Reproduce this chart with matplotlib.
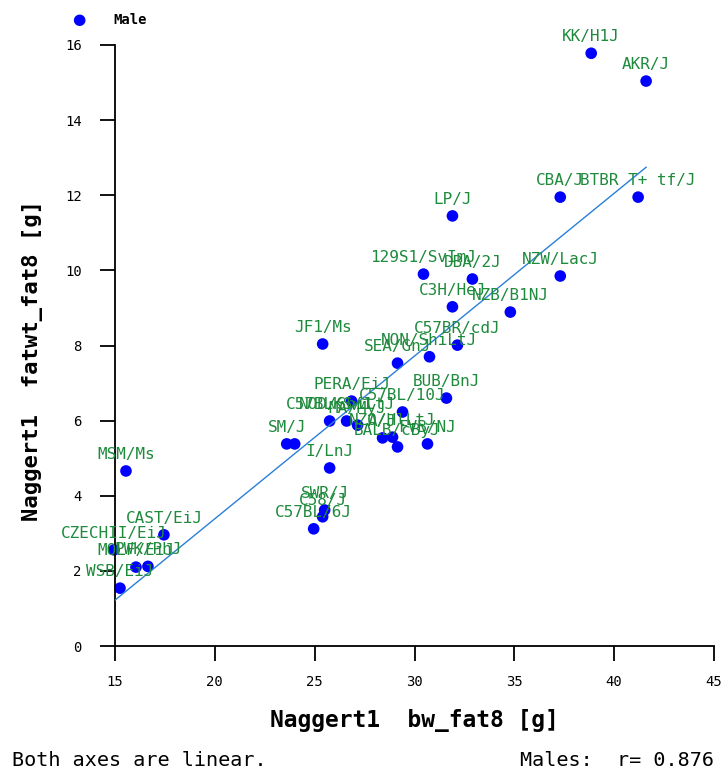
import numpy as np
import matplotlib
matplotlib.use("Agg")
import matplotlib.pyplot as plt

# strain means
strains = ["KK/H1J", "AKR/J", "CBA/J", "BTBR T+ tf/J", "LP/J", "129S1/SvImJ",
           "DBA/2J", "NZW/LacJ", "C3H/HeJ", "NZB/B1NJ", "C57BR/cdJ", "NON/ShiLtJ",
           "SEA/GnJ", "JF1/Ms", "PERA/EiJ", "BUB/BnJ", "C57BL/10J", "C57BLKS/J",
           "NOD/ShiLtJ", "MA/MyJ", "A/J", "NZO/HlLtJ", "BALB/cByJ", "FVB/NJ",
           "SM/J", "", "I/LnJ", "SWR/J", "C58/J", "C57BL/6J", "MSM/Ms",
           "CAST/EiJ", "CZECHII/EiJ", "MOLF/EiJ", "PWK/PhJ", "WSB/EiJ"]
bw_fat8 = [38.85, 41.6, 37.3, 41.2, 31.9, 30.45,
           32.9, 37.3, 31.9, 34.8, 32.15, 30.75,
           29.15, 25.4, 26.85, 31.6, 29.4, 25.75,
           26.6, 27.15, 28.4, 28.9, 29.15, 30.65,
           23.6, 24.0, 25.75, 25.5, 25.4, 24.95, 15.55,
           17.45, 14.95, 16.05, 16.65, 15.25]
fatwt_fat8 = [15.78, 15.04, 11.95, 11.95, 11.45, 9.9,
              9.77, 9.85, 9.03, 8.89, 8.01, 7.7,
              7.53, 8.04, 6.52, 6.6, 6.23, 5.99,
              5.99, 5.88, 5.54, 5.56, 5.3, 5.38,
              5.38, 5.38, 4.74, 3.62, 3.44, 3.12, 4.66,
              2.96, 2.56, 2.1, 2.12, 1.54]
x_ticks = [15, 20, 25, 30, 35, 40, 45]
y_ticks = [0, 2, 4, 6, 8, 10, 12, 14, 16]

x = np.array(bw_fat8)
y = np.array(fatwt_fat8)

mono = "DejaVu Sans Mono"
label_green = "#1e8a3c"

fig = plt.figure(figsize=(7.26, 7.72), dpi=100)
ax = fig.add_axes([115 / 726, 1 - 646 / 772, 599 / 726, 601 / 772])

# regression line over the data range
slope, icpt = np.polyfit(x, y, 1)
xs = np.array([x.min(), x.max()])
ax.plot(xs, slope * xs + icpt, color="#2a7fd8", lw=1, zorder=3)

ax.scatter(x, y, s=70, color="#0000ff", edgecolors="none", zorder=2, clip_on=False)

for name, xi, yi in zip(strains, x, y):
    if name:
        ax.annotate(name, (xi, yi), xytext=(0, 12), textcoords="offset points",
                    ha="center", va="center", color=label_green,
                    fontsize=11.5, family=mono, zorder=4, annotation_clip=False)

ax.set_xlim(15, 45)
ax.set_ylim(0, 16)
ax.set_xticks(x_ticks)
ax.set_yticks(y_ticks)
for s in ["top", "right"]:
    ax.spines[s].set_visible(False)
for s in ["left", "bottom"]:
    ax.spines[s].set_linewidth(1.3)
ax.tick_params(axis="both", direction="out", length=11, width=1.3)
ax.tick_params(axis="x", pad=10)
ax.tick_params(axis="y", pad=13)
for lab in ax.get_xticklabels() + ax.get_yticklabels():
    lab.set_family(mono)
    lab.set_fontsize(10)

ax.set_xlabel("Naggert1  bw_fat8 [g]", family=mono, fontsize=16.5,
              fontweight="bold", labelpad=14)
ax.set_ylabel("Naggert1  fatwt_fat8 [g]", family=mono, fontsize=16,
              fontweight="bold", labelpad=16, y=0.475)

# legend + footer
fig.text(79 / 726, 1 - 20 / 772, "\u25cf", color="#0000ff", fontsize=11,
         ha="center", va="center")
fig.text(113 / 726, 1 - 20 / 772, "Male", family=mono, fontsize=10,
         fontweight="bold", ha="left", va="center")
fig.text(12 / 726, 1 - 760 / 772, "Both axes are linear.", family=mono,
         fontsize=14.5, ha="left", va="center")
fig.text(714 / 726, 1 - 760 / 772, "Males:  r= 0.876", family=mono,
         fontsize=14.5, ha="right", va="center")

fig.savefig("out.png", dpi=100)
